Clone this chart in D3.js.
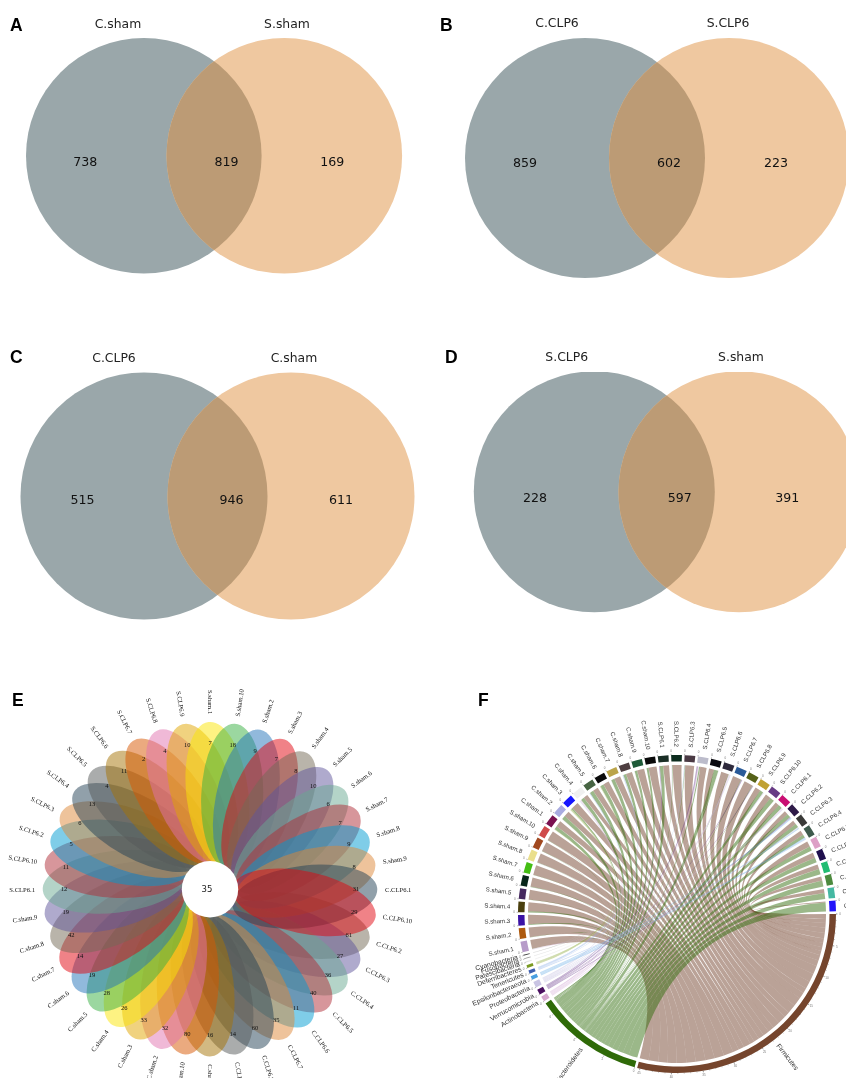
<!DOCTYPE html>
<html>
<head>
<meta charset="utf-8">
<script src="https://cdn.jsdelivr.net/npm/d3@7"></script>
<style>
  html, body { margin: 0; padding: 0; background: #fff; }
  svg { display: block; }
</style>
</head>
<body>
<div id="visual"></div>
<script>
// panels A-D
const vennLetters = ["A", "B", "C", "D"];
const vennLeftNames = ["C.sham", "C.CLP6", "C.CLP6", "S.CLP6"];
const vennRightNames = ["S.sham", "S.CLP6", "C.sham", "S.sham"];
const vennLeftOnly = [738, 859, 515, 228];
const vennShared = [819, 602, 946, 597];
const vennRightOnly = [169, 223, 611, 391];

// panel E
const flowerCore = 35;
const flowerSamples = ["S.sham.1", "S.sham.10", "S.sham.2", "S.sham.3", "S.sham.4", "S.sham.5", "S.sham.6", "S.sham.7", "S.sham.8", "S.sham.9",
  "C.CLP6.1", "C.CLP6.10", "C.CLP6.2", "C.CLP6.3", "C.CLP6.4", "C.CLP6.5", "C.CLP6.6", "C.CLP6.7", "C.CLP6.8", "C.CLP6.9",
  "C.sham.1", "C.sham.10", "C.sham.2", "C.sham.3", "C.sham.4", "C.sham.5", "C.sham.6", "C.sham.7", "C.sham.8", "C.sham.9",
  "S.CLP6.1", "S.CLP6.10", "S.CLP6.2", "S.CLP6.3", "S.CLP6.4", "S.CLP6.5", "S.CLP6.6", "S.CLP6.7", "S.CLP6.8", "S.CLP6.9"];
const flowerValues = [7, 18, 9, 7, 8, 10, 6, 7, 9, 8,
  31, 29, 61, 27, 36, 40, 11, 35, 60, 14,
  16, 80, 32, 33, 26, 28, 19, 14, 42, 19,
  12, 11, 5, 6, 13, 4, 11, 2, 4, 10];
const flowerColors = ["#fbe505", "#37af41", "#2373b9", "#e1050f", "#736955", "#5f559b", "#69a991", "#af2d37", "#009bd1", "#dd8737",
  "#234155", "#e1050f", "#736955", "#5f559b", "#69a991", "#af2d37", "#009bd1", "#dd8737", "#234155", "#555959",
  "#a57305", "#d75500", "#e173af", "#e1a500", "#fbe505", "#37af41", "#2373b9", "#e1050f", "#736955", "#5f559b",
  "#69a991", "#af2d37", "#009bd1", "#dd8737", "#234155", "#555959", "#a57305", "#d75500", "#e173af", "#e1a500"];

// panel F
const phyla = ["Firmicutes", "Bacteroidetes", "Actinobacteria", "Verrucomicrobia", "Proteobacteria", "Epsilonbacteraeota", "Tenericutes", "Deferribacteres", "Patescibacteria", "Fusobacteria", "Cyanobacteria"];
const phylumColors = ["#75452d", "#2f6a08", "#d5a8cf", "#4a1060", "#c9c4e3", "#4a9fe0", "#3f5fb0", "#7a9a22", "#e6e6e6", "#999999", "#444444"];
const ribbonColors = ["#6e3d25", "#2f6a08", "#d9b4dc", "#6a3a8a", "#c4bfe0", "#72b2e6", "#8fb0e6", "#90ab40", "#dddddd", "#cccccc", "#bbbbbb"];
const chordSamples = ["S.sham.1", "S.sham.2", "S.sham.3", "S.sham.4", "S.sham.5", "S.sham.6", "S.sham.7", "S.sham.8", "S.sham.9", "S.sham.10",
  "C.sham.1", "C.sham.2", "C.sham.3", "C.sham.4", "C.sham.5", "C.sham.6", "C.sham.7", "C.sham.8", "C.sham.9", "C.sham.10",
  "S.CLP6.1", "S.CLP6.2", "S.CLP6.3", "S.CLP6.4", "S.CLP6.5", "S.CLP6.6", "S.CLP6.7", "S.CLP6.8", "S.CLP6.9", "S.CLP6.10",
  "C.CLP6.1", "C.CLP6.2", "C.CLP6.3", "C.CLP6.4", "C.CLP6.5", "C.CLP6.6", "C.CLP6.7", "C.CLP6.8", "C.CLP6.9", "C.CLP6.10"];
const sampleColors = ["#b79bc9", "#ae5a0e", "#3a12a5", "#4a3f0e", "#45295f", "#08261a", "#44be14", "#eadf8c", "#a1481f", "#cf4b4b",
  "#7a1150", "#a9abe0", "#1616ff", "#f0f0f0", "#476443", "#0a0a0a", "#bba44a", "#4e3f41", "#1e5a38", "#0a0a0a",
  "#1a2e25", "#0c2c1e", "#4a3a44", "#bcbccb", "#0a0a10", "#2e2a3c", "#2a5a98", "#556118", "#c0a132", "#683b85",
  "#c90e72", "#2e1a48", "#3a3a38", "#3e5a4c", "#dda0c6", "#20104e", "#22bc72", "#4c8a3e", "#45b8a2", "#2214fa"];
const firmicutes = [.90, .97, .92, .90, .98, .93, .97, .93, .96, .97,
  .60, .57, .72, .44, .54, .58, .62, .62, .72, .80,
  .58, .90, .89, .64, .51, .75, .85, .87, .56, .56,
  .42, .40, .42, .45, .56, .52, .46, .40, .40, .10];
const bacteroidetes = [.02, .03, .08, .10, .02, .03, .03, .03, .04, .03,
  .34, .38, .14, .34, .38, .34, .34, .28, .24, .20,
  .34, .05, .05, .12, .44, .05, .05, .05, .34, .44,
  .38, .38, .38, .34, .44, .48, .54, .60, .60, .90];
// the thin ribbons: phylum, sample, value
const minorLinks = [
  ["Actinobacteria", "S.sham.1", .08], ["Actinobacteria", "C.sham.4", .12], ["Actinobacteria", "S.CLP6.4", .10], ["Actinobacteria", "S.CLP6.6", .10], ["Actinobacteria", "C.CLP6.1", .10],
  ["Verrucomicrobia", "S.CLP6.1", .08], ["Verrucomicrobia", "S.CLP6.4", .14], ["Verrucomicrobia", "S.CLP6.7", .10], ["Verrucomicrobia", "S.CLP6.8", .08], ["Verrucomicrobia", "C.CLP6.2", .10],
  ["Proteobacteria", "C.sham.4", .10], ["Proteobacteria", "S.CLP6.2", .05], ["Proteobacteria", "S.CLP6.6", .10], ["Proteobacteria", "S.CLP6.9", .10], ["Proteobacteria", "C.CLP6.1", .10], ["Proteobacteria", "C.CLP6.3", .10],
  ["Epsilonbacteraeota", "C.CLP6.2", .12], ["Epsilonbacteraeota", "C.CLP6.3", .10], ["Epsilonbacteraeota", "C.CLP6.4", .13],
  ["Tenericutes", "C.sham.5", .08], ["Tenericutes", "C.sham.8", .10], ["Tenericutes", "S.CLP6.3", .06], ["Tenericutes", "C.CLP6.4", .08],
  ["Deferribacteres", "C.sham.1", .06], ["Deferribacteres", "C.sham.3", .14], ["Deferribacteres", "C.sham.6", .08],
  ["Patescibacteria", "C.sham.2", .05], ["Patescibacteria", "S.CLP6.5", .05],
  ["Fusobacteria", "S.sham.8", .04], ["Fusobacteria", "C.sham.7", .04],
  ["Cyanobacteria", "S.sham.6", .04], ["Cyanobacteria", "C.sham.9", .04]
];
const firmicutesTicks = [0, 5, 10, 15, 20, 25, 30, 35, 40, 45];
const bacteroidetesTicks = [0, 2, 4, 6];

const w = 846;
const h = 1078;

const svg = d3.select("#visual").
append("svg").
attr("width", w).
attr("height", h).
style("font-family", "'DejaVu Sans', sans-serif");

// the reference is a soft raster, a small blur gets closer to it
const defs = svg.append("defs");
defs.append("filter").attr("id", "soft").attr("color-interpolation-filters", "sRGB").
attr("x", "-5%").attr("y", "-5%").attr("width", "110%").attr("height", "110%").
append("feGaussianBlur").attr("stdDeviation", 0.4);
defs.append("filter").attr("id", "softer").attr("color-interpolation-filters", "sRGB").
attr("x", "-5%").attr("y", "-5%").attr("width", "110%").attr("height", "110%").
append("feGaussianBlur").attr("stdDeviation", 0.25);

// panel letters
const letterX = [10, 440, 10, 445];
const letterY = [31, 31, 363, 363];
function panelLetter(s, x, y) {
  svg.append("text").
  attr("x", x).
  attr("y", y).
  attr("font-family", "'Liberation Sans', sans-serif").
  attr("font-weight", "bold").
  attr("font-size", 17.5).
  attr("fill", "#000").
  attr("filter", "url(#softer)").
  text(s);
}

// venn layout
const vennGeom = [
  { lx: 143.8, rx: 284.3, cy: 155.8, r: 117.8, tl: 118, tr: 287, ty: 28, ny: 166, nl: 85.3, nm: 226.4, nr: 332.3 },
  { lx: 585, rx: 729, cy: 158, r: 120, tl: 557, tr: 728, ty: 27, ny: 167, nl: 525, nm: 669, nr: 776 },
  { lx: 144, rx: 291, cy: 496, r: 123.5, tl: 114, tr: 294, ty: 362, ny: 504, nl: 82.5, nm: 231.5, nr: 341 },
  { lx: 594.3, rx: 739, cy: 491.8, r: 120.5, tl: 566.7, tr: 741, ty: 361, ny: 501.5, nl: 535, nm: 679.7, nr: 787.3 }
];

defs.append("clipPath").attr("id", "vennLow").
append("rect").attr("x", 0).attr("y", 372).attr("width", w).attr("height", 300);

vennLetters.forEach(function (s, i) {
  const g = vennGeom[i];
  panelLetter(s, letterX[i], letterY[i]);

  const p = svg.append("g");
  if (i > 1) p.attr("clip-path", "url(#vennLow)");
  p.append("circle").attr("cx", g.lx).attr("cy", g.cy).attr("r", g.r).attr("fill", "#9aa7aa");
  p.append("circle").attr("cx", g.rx).attr("cy", g.cy).attr("r", g.r).attr("fill", "#efc8a0");

  // overlap only
  defs.append("clipPath").attr("id", "lens" + i).
  append("circle").attr("cx", g.lx).attr("cy", g.cy).attr("r", g.r);
  p.append("g").attr("clip-path", "url(#lens" + i + ")").
  append("circle").attr("cx", g.rx).attr("cy", g.cy).attr("r", g.r).attr("fill", "#bc9b75");

  const t = svg.append("g").attr("filter", "url(#softer)");
  [[vennLeftNames[i], g.tl], [vennRightNames[i], g.tr]].forEach(function (d) {
    t.append("text").attr("x", d[1]).attr("y", g.ty).
    attr("text-anchor", "middle").attr("font-size", 12.4).attr("fill", "#222").text(d[0]);
  });
  [[vennLeftOnly[i], g.nl], [vennShared[i], g.nm], [vennRightOnly[i], g.nr]].forEach(function (d) {
    t.append("text").attr("x", d[1]).attr("y", g.ny).
    attr("text-anchor", "middle").attr("font-size", 12.6).attr("fill", "#111").text(d[0]);
  });
});

// polar helpers, angle in degrees clockwise from north
function px(a, r) {return r * Math.sin(a * Math.PI / 180);}
function py(a, r) {return -r * Math.cos(a * Math.PI / 180);}
function radialText(g, a, r, s) {
  const n = (a % 360 + 360) % 360;
  const right = n > 0.01 && n <= 180;
  return g.append("text").
  attr("transform", "translate(" + px(a, r) + "," + py(a, r) + ") rotate(" + (right ? n - 90 : n + 90) + ")").
  attr("text-anchor", right ? "start" : "end").
  attr("dy", ".35em").
  text(s);
}

// flower
panelLetter("E", 12, 706);
const flower = svg.append("g").attr("transform", "translate(210,889.2)").attr("filter", "url(#soft)");
const petalAngle = d3.scaleLinear().domain([0, flowerSamples.length]).range([0, 360]);
const flowerR = { mid: 95, long: 73, wide: 31, val: 146, label: 175, hole: 28.2 };

// drawn from C.CLP6.2 clockwise, so C.CLP6.10 ends on top
const petalOrder = d3.range(flowerSamples.length).map(function (i) {return (i + 12) % flowerSamples.length;});
const lastPetal = 11;

// petals lean like a pinwheel, the one drawn last leans the other way
flower.selectAll("ellipse").
data(petalOrder).
enter().
append("ellipse").
attr("cx", 0).
attr("cy", 0).
attr("rx", flowerR.wide).
attr("ry", flowerR.long).
attr("fill", (d) => flowerColors[d]).
attr("fill-opacity", 0.5).
attr("transform", function (d) {
  if (d === lastPetal) return "rotate(" + (petalAngle(d) - 1) + ") translate(0," + -flowerR.mid + ") rotate(4)";
  return "rotate(" + (petalAngle(d) + 4.5) + ") translate(0," + -flowerR.mid + ") rotate(-11.5)";
});

flower.append("circle").attr("r", flowerR.hole).attr("fill", "#fff");
flower.append("text").attr("x", -3).attr("y", 3).attr("text-anchor", "middle").
attr("font-size", 8.5).attr("fill", "#222").text(flowerCore);

const flowerText = flower.append("g").
attr("font-family", "'Liberation Serif', serif").
attr("fill", "#111");

flowerValues.forEach(function (v, i) {
  const a = petalAngle(i);
  flowerText.append("text").
  attr("x", px(a, flowerR.val)).
  attr("y", py(a, flowerR.val)).
  attr("dy", ".35em").
  attr("text-anchor", "middle").
  attr("font-size", 6.5).
  text(v);
  radialText(flowerText, a, flowerR.label, flowerSamples[i]).attr("font-size", 6.6);
});

// chord
panelLetter("F", 478, 706);
const chord = svg.append("g").attr("transform", "translate(677,914)").attr("filter", "url(#soft)");
const chordR = { ribbon: 149, inner: 152.5, outer: 159, tick: 161, label: 167, phylum: 165 };
const padDeg = 0.96;

const links = [];
chordSamples.forEach(function (s, i) {
  links.push({ phylum: 0, sample: i, value: firmicutes[i] });
  links.push({ phylum: 1, sample: i, value: bacteroidetes[i] });
});
minorLinks.forEach(function (d) {
  links.push({ phylum: phyla.indexOf(d[0]), sample: chordSamples.indexOf(d[1]), value: d[2] });
});

const phylumTotals = phyla.map(function (p, i) {
  return d3.sum(links.filter(function (l) {return l.phylum === i;}), function (l) {return l.value;});
});
const sampleTotals = chordSamples.map(function (p, i) {
  return d3.sum(links.filter(function (l) {return l.sample === i;}), function (l) {return l.value;});
});
const grandTotal = d3.sum(phylumTotals) + d3.sum(sampleTotals);
const sectorCount = phyla.length + chordSamples.length;
const degPerUnit = (360 - sectorCount * padDeg) / grandTotal;

// sectors run clockwise from east
let cursor = 90;
const phylumSectors = phylumTotals.map(function (t) {
  const s = { start: cursor, end: cursor + t * degPerUnit };
  cursor = s.end + padDeg;
  return s;
});
const sampleSectors = sampleTotals.map(function (t) {
  const s = { start: cursor, end: cursor + t * degPerUnit };
  cursor = s.end + padDeg;
  return s;
});

// place ribbon ends so they don't twist at the phylum side
phyla.forEach(function (p, pi) {
  let a = phylumSectors[pi].start;
  d3.range(chordSamples.length - 1, -1, -1).forEach(function (si) {
    links.filter(function (l) {return l.phylum === pi && l.sample === si;}).forEach(function (l) {
      l.sourceStart = a;
      a += l.value * degPerUnit;
      l.sourceEnd = a;
    });
  });
});
chordSamples.forEach(function (s, si) {
  let a = sampleSectors[si].start;
  let here = links.filter(function (l) {return l.sample === si;});
  // green on the counter clockwise side up to S.CLP6.4, after that brown first
  here.sort(function (x, y) {
    return si <= 23 ? d3.descending(x.phylum, y.phylum) : d3.ascending(x.phylum, y.phylum);
  });
  here.forEach(function (l) {
    l.targetStart = a;
    a += l.value * degPerUnit;
    l.targetEnd = a;
  });
});

const rad = Math.PI / 180;
const ribbon = d3.ribbon().radius(chordR.ribbon);

chord.append("g").selectAll("path").
data(links).
enter().
append("path").
attr("d", function (l) {
  return ribbon({
    source: { startAngle: l.sourceStart * rad, endAngle: l.sourceEnd * rad },
    target: { startAngle: l.targetStart * rad, endAngle: l.targetEnd * rad }
  });
}).
attr("fill", (l) => ribbonColors[l.phylum]).
attr("fill-opacity", (l) => l.phylum < 2 ? 0.48 : 0.42);

const sectorArc = d3.arc().
innerRadius(chordR.inner).
outerRadius(chordR.outer).
startAngle((d) => d.start * rad).
endAngle((d) => d.end * rad);

chord.append("g").selectAll("path").
data(phylumSectors).
enter().
append("path").
attr("d", sectorArc).
attr("fill", (d, i) => phylumColors[i]);

chord.append("g").selectAll("path").
data(sampleSectors).
enter().
append("path").
attr("d", sectorArc).
attr("fill", (d, i) => sampleColors[i]);

const tickG = chord.append("g").attr("font-family", "'Liberation Sans', sans-serif");

function axisTick(a, len, label) {
  tickG.append("line").
  attr("x1", px(a, chordR.outer)).attr("y1", py(a, chordR.outer)).
  attr("x2", px(a, chordR.outer + len)).attr("y2", py(a, chordR.outer + len)).
  attr("stroke", "#333").attr("stroke-width", 0.35);
  if (label !== null) {
    tickG.append("text").
    attr("x", px(a, chordR.tick + 2)).attr("y", py(a, chordR.tick + 2)).
    attr("dy", ".35em").attr("text-anchor", "middle").
    attr("font-size", 3).attr("fill", "#777").text(label);
  }
}

const firmicutesAngle = d3.scaleLinear().domain([0, 45]).range([90, 90 + 45 * 2.3]);
firmicutesTicks.forEach(function (t) {axisTick(firmicutesAngle(t), 1.6, t);});
d3.range(0, 46).forEach(function (t) {axisTick(firmicutesAngle(t), 0.8, null);});
const bacteroidetesAngle = d3.scaleLinear().domain([0, 6]).range([phylumSectors[1].start, phylumSectors[1].start + 35.5]);
bacteroidetesTicks.forEach(function (t) {axisTick(bacteroidetesAngle(t), 1.6, t);});

const labelG = chord.append("g").
attr("font-family", "'Liberation Sans', sans-serif").
attr("fill", "#333");

chordSamples.forEach(function (s, i) {
  const d = sampleSectors[i];
  axisTick(d.start, 1.4, 0);
  radialText(labelG, (d.start + d.end) / 2, chordR.label, s).attr("font-size", 6.1);
});
phyla.forEach(function (s, i) {
  const d = phylumSectors[i];
  if (i > 1) axisTick(d.start, 1.4, 0);
  radialText(labelG, (d.start + d.end) / 2, chordR.phylum, s).attr("font-size", 6.8);
});
</script>
</body>
</html>
